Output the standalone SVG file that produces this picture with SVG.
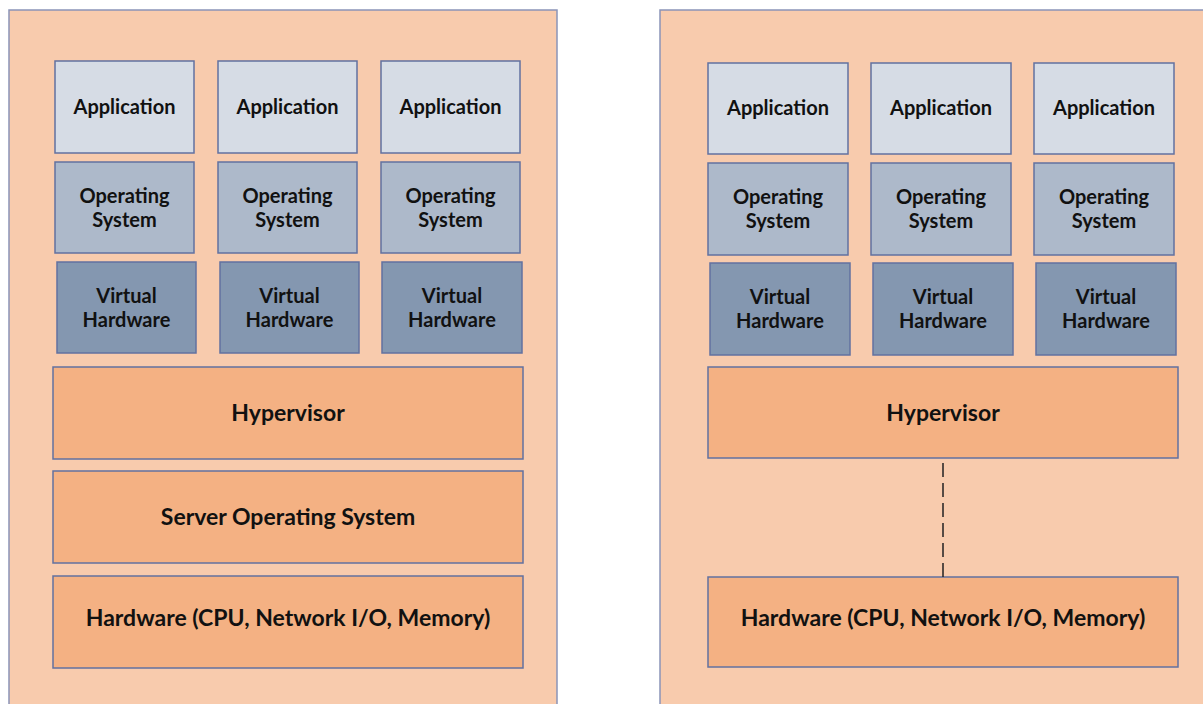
<svg xmlns="http://www.w3.org/2000/svg" width="1203" height="704" viewBox="0 0 1203 704">
<style>
.panel{fill:#F8CBAD;stroke:#8A94B8;stroke-width:1.5}
.box{stroke:#6272A0;stroke-width:1.5}
.app{fill:#D6DCE5}
.os{fill:#ADB9CA}
.vh{fill:#8497B0}
.or{fill:#F4B183}
text{font-family:Lato,"Liberation Sans",sans-serif;font-weight:bold;font-size:20px;fill:#111;text-anchor:middle}
text.big{font-size:23px}
.conn{stroke:#222;stroke-width:1.5;stroke-dasharray:14,6;fill:none}
</style>
<rect width="1203" height="704" fill="#ffffff"/>
<g id="left-panel"><rect class="panel" x="9" y="10" width="548" height="710"/></g>
<g id="right-panel"><rect class="panel" x="660" y="10" width="560" height="710"/></g>

<g id="L-app1"><rect class="box app" x="55" y="61" width="139" height="92"/><text x="124.5" y="114">Application</text></g>
<g id="L-app2"><rect class="box app" x="218" y="61" width="139" height="92"/><text x="287.5" y="114">Application</text></g>
<g id="L-app3"><rect class="box app" x="381" y="61" width="139" height="92"/><text x="450.5" y="114">Application</text></g>
<g id="L-os1"><rect class="box os" x="55" y="162" width="139" height="91"/><text x="124.5" y="203">Operating</text><text x="124.5" y="227">System</text></g>
<g id="L-os2"><rect class="box os" x="218" y="162" width="139" height="91"/><text x="287.5" y="203">Operating</text><text x="287.5" y="227">System</text></g>
<g id="L-os3"><rect class="box os" x="381" y="162" width="139" height="91"/><text x="450.5" y="203">Operating</text><text x="450.5" y="227">System</text></g>
<g id="L-vh1"><rect class="box vh" x="57" y="262" width="139" height="91"/><text x="126.5" y="303">Virtual</text><text x="126.5" y="327">Hardware</text></g>
<g id="L-vh2"><rect class="box vh" x="220" y="262" width="139" height="91"/><text x="289.5" y="303">Virtual</text><text x="289.5" y="327">Hardware</text></g>
<g id="L-vh3"><rect class="box vh" x="382" y="262" width="140" height="91"/><text x="452" y="303">Virtual</text><text x="452" y="327">Hardware</text></g>
<g id="L-hyp"><rect class="box or" x="53" y="367" width="470" height="92"/><text class="big" x="288" y="421">Hypervisor</text></g>
<g id="L-sos"><rect class="box or" x="53" y="471" width="470" height="92"/><text class="big" x="288" y="525">Server Operating System</text></g>
<g id="L-hw"><rect class="box or" x="53" y="576" width="470" height="92"/><text class="big" x="288" y="626">Hardware (CPU, Network I/O, Memory)</text></g>

<g id="R-app1"><rect class="box app" x="708" y="63" width="140" height="91"/><text x="778" y="115">Application</text></g>
<g id="R-app2"><rect class="box app" x="871" y="63" width="140" height="91"/><text x="941" y="115">Application</text></g>
<g id="R-app3"><rect class="box app" x="1034" y="63" width="140" height="91"/><text x="1104" y="115">Application</text></g>
<g id="R-os1"><rect class="box os" x="708" y="163" width="140" height="92"/><text x="778" y="204">Operating</text><text x="778" y="228">System</text></g>
<g id="R-os2"><rect class="box os" x="871" y="163" width="140" height="92"/><text x="941" y="204">Operating</text><text x="941" y="228">System</text></g>
<g id="R-os3"><rect class="box os" x="1034" y="163" width="140" height="92"/><text x="1104" y="204">Operating</text><text x="1104" y="228">System</text></g>
<g id="R-vh1"><rect class="box vh" x="710" y="263" width="140" height="92"/><text x="780" y="304">Virtual</text><text x="780" y="328">Hardware</text></g>
<g id="R-vh2"><rect class="box vh" x="873" y="263" width="140" height="92"/><text x="943" y="304">Virtual</text><text x="943" y="328">Hardware</text></g>
<g id="R-vh3"><rect class="box vh" x="1036" y="263" width="140" height="92"/><text x="1106" y="304">Virtual</text><text x="1106" y="328">Hardware</text></g>
<g id="R-hyp"><rect class="box or" x="708" y="367" width="470" height="91"/><text class="big" x="943" y="421">Hypervisor</text></g>
<g id="R-hw"><rect class="box or" x="708" y="577" width="470" height="90"/><text class="big" x="943" y="626">Hardware (CPU, Network I/O, Memory)</text></g>

<g id="connectors"><line class="conn" x1="943" y1="463" x2="943" y2="577"/></g>
</svg>
